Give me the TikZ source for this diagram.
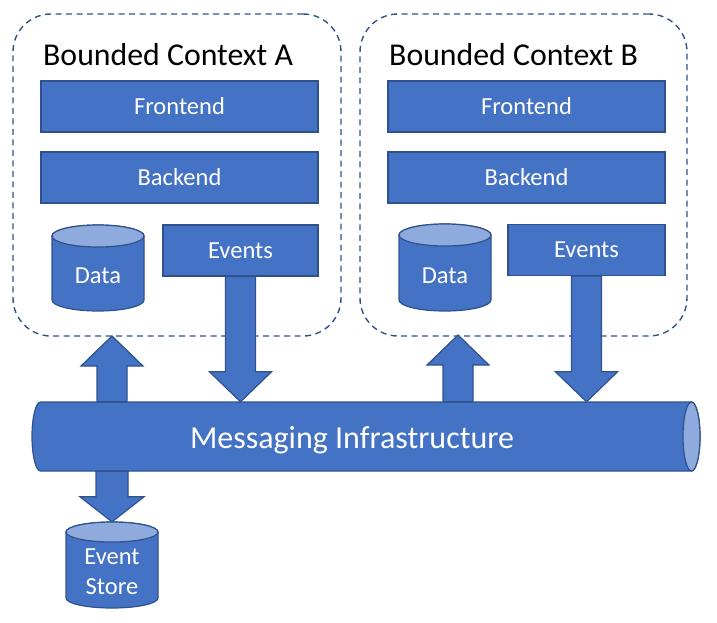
\documentclass[tikz,border=0pt]{standalone}
\usepackage{fontspec}
\setmainfont{Carlito}
\usetikzlibrary{calc}
\definecolor{boxblue}{HTML}{4472C4}
\definecolor{edgeblue}{HTML}{2F528F}
\definecolor{capblue}{HTML}{8FAADC}
\tikzset{
  block/.style={draw=edgeblue, fill=boxblue, line width=1.2pt, text=white,
    font=\fontsize{24.5}{29}\selectfont, minimum height=51pt, inner sep=0pt},
  context/.style={draw=edgeblue, dash pattern=on 6pt off 4.5pt, line width=1.4pt,
    rounded corners=38pt, inner sep=0pt},
  ctitle/.style={font=\fontsize{31.8}{36}\selectfont, anchor=base west, inner sep=0pt},
  barrow/.style={draw=edgeblue, fill=boxblue, line width=1.2pt, line join=miter},
  cylbody/.style={draw=edgeblue, fill=boxblue, line width=1.2pt},
  cylcap/.style={draw=edgeblue, fill=capblue, line width=1.2pt},
  cylarea/.style={inner sep=0pt},
  cyltext/.style={text=white, font=\fontsize{24.5}{30}\selectfont, inner sep=0pt, align=center},
  pipetext/.style={text=white, font=\fontsize{32}{36}\selectfont, inner sep=0pt,
    minimum height=69pt, text height=23pt, text depth=0pt},
}
% #1 name, #2 cx, #3 top, #4 bottom, #5 rx, #6 ry, #7 text
\newcommand\drawcyl[7]{%
  \path[cylbody] ({#2-#5},{#3+#6}) -- ({#2-#5},{#4-#6})
     arc[start angle=180,end angle=360,x radius=#5pt,y radius=#6pt]
     -- ({#2+#5},{#3+#6})
     arc[start angle=0,end angle=180,x radius=#5pt,y radius=#6pt] -- cycle;
  \path[cylcap] ({#2},{#3+#6}) ellipse[x radius=#5pt,y radius=#6pt];
  \node[cylarea, minimum width=2*#5, minimum height={#4-#3}] (#1) at ({#2},{(#3+#4)/2}) {};
  \node[cyltext] (#1-label) at ({#2},{(#3+2*#6+#4)/2-3}) {#7};}
% #1 start, #2 tip, #3 head length, #4 shaft half width, #5 head half width
\newcommand\blockarrow[5]{%
  \coordinate (bah) at ($(#2)!#3pt!(#1)$);
  \draw[barrow] ($(#1)!#4pt!90:(#2)$) -- ($(bah)!#4pt!90:(#2)$) -- ($(bah)!#5pt!90:(#2)$)
    -- (#2) -- ($(bah)!#5pt!-90:(#2)$) -- ($(bah)!#4pt!-90:(#2)$) -- ($(#1)!#4pt!-90:(#2)$) -- cycle;}
\begin{document}
\begin{tikzpicture}[x=1pt,y=-1pt]
\useasboundingbox (0,0) rectangle (717,622);
% contexts
\node[context, minimum width=328pt, minimum height=322pt] (ctxA) at (177,175) {};
\node[context, minimum width=327pt, minimum height=322pt] (ctxB) at (523.5,175) {};
\node[ctitle] (titleA) at (43,65) {Bounded Context A};
\node[ctitle] (titleB) at (389,65) {Bounded Context B};
% blocks A
\node[block, minimum width=277pt] (frontA) at (179.5,106.5) {Frontend};
\node[block, minimum width=277pt] (backA) at (179.5,177.5) {Backend};
\node[block, minimum width=155pt] (eventsA) at (240.5,250.5) {Events};
\drawcyl{dataA}{98}{225}{311}{46}{11}{Data}
% blocks B
\node[block, minimum width=277pt] (frontB) at (526.5,106.5) {Frontend};
\node[block, minimum width=277pt] (backB) at (526.5,177.5) {Backend};
\node[block, minimum width=157pt] (eventsB) at (586.5,250) {Events};
\drawcyl{dataB}{445}{224}{311}{46}{11}{Data}
% pipe
\path[cylbody] (691.5,402) -- (40.5,402)
   arc[start angle=90,end angle=270,x radius=8.5pt,y radius=34.5pt]
   -- (691.5,471)
   arc[start angle=270,end angle=450,x radius=8.5pt,y radius=34.5pt] -- cycle;
\path[cylcap] (691.5,436.5) ellipse[x radius=8.5pt,y radius=34.5pt];
\node[pipetext] (pipe) at (352,436.5) {Messaging Infrastructure};
% arrow end points
\coordinate (inA) at (112,336);
\coordinate (inB) at (458,335);
\coordinate (outA) at (eventsA.south |- pipe.north);
\coordinate (outB) at (eventsB.south |- pipe.north);
\coordinate (fromA) at (inA |- pipe.north);
\coordinate (fromB) at (inB |- pipe.north);
% store
\drawcyl{store}{112}{522}{608}{46}{10}{Event\\Store}
\coordinate (toStore) at (store.north |- pipe.south);
% arrows
\blockarrow{eventsA.south}{outA}{30}{15}{31}
\blockarrow{fromA}{inA}{30}{15}{31}
\blockarrow{eventsB.south}{outB}{30}{15}{31}
\blockarrow{fromB}{inB}{30}{15}{31}
\blockarrow{toStore}{store.north}{25}{16}{32}
\end{tikzpicture}
\end{document}
